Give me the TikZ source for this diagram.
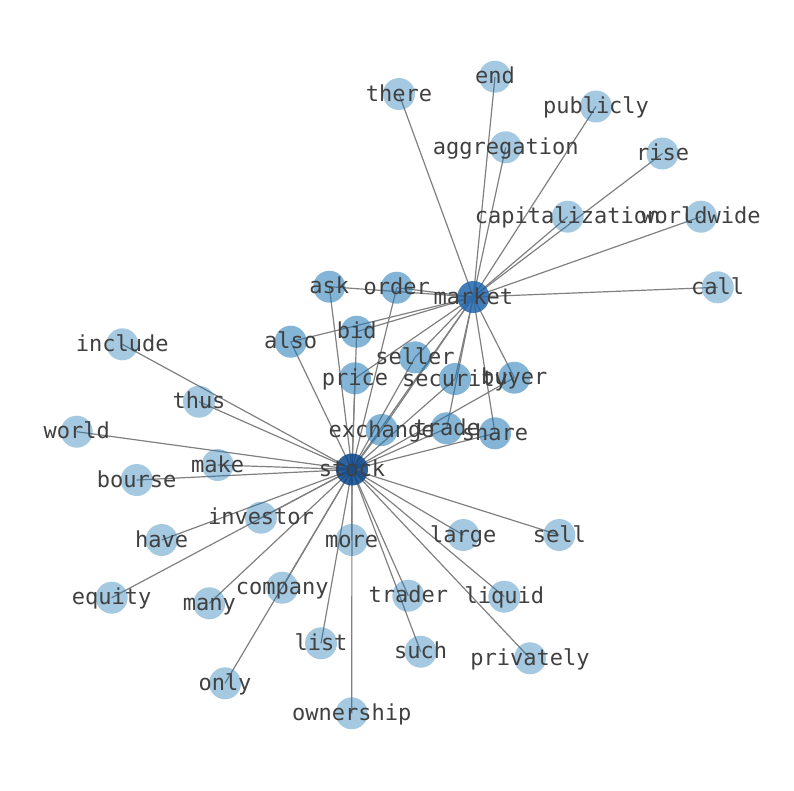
\documentclass[tikz,border=0pt]{standalone}
\usepackage{fontspec}
\setmonofont{DejaVu Sans Mono}
\pgfdeclarelayer{edgelayer}
\pgfdeclarelayer{labellayer}
\pgfsetlayers{edgelayer,main,labellayer}
\definecolor{nodeblue}{HTML}{1F78B4}
\definecolor{marketblue}{HTML}{2166AC}
\definecolor{stockblue}{HTML}{08468A}
\tikzset{
  wn/.style={circle, minimum size=32pt, inner sep=0pt, draw=none, fill=nodeblue, fill opacity=0.4},
  mn/.style={wn, fill opacity=0.55},
  hubm/.style={wn, fill=marketblue, fill opacity=0.85},
  hubs/.style={wn, fill=stockblue, fill opacity=0.85},
  lbl/.style={font=\ttfamily\fontsize{22}{24}\selectfont, text=black!75, inner sep=0pt, text height=14pt, text depth=0pt, anchor=center},
  edge/.style={draw=black!50, line width=1.2pt}
}
\begin{document}
\begin{tikzpicture}[x=1pt,y=-1pt]
\useasboundingbox (0,0) rectangle (794,790);
% circles
\node[hubs] (stock) at (352,469.5) {};
\node[hubm] (market) at (473.3,297) {};
\node[wn] (there) at (399,94) {};
\node[wn] (end) at (495,76.7) {};
\node[wn] (publicly) at (596,106.5) {};
\node[wn] (aggregation) at (505.7,147.3) {};
\node[wn] (rise) at (662.5,153.5) {};
\node[wn] (capitalization) at (567.7,216.7) {};
\node[wn] (worldwide) at (701,216.7) {};
\node[wn] (call) at (717.7,287.3) {};
\node[mn] (ask) at (329.3,286.7) {};
\node[mn] (order) at (396.7,287.7) {};
\node[mn] (bid) at (356.7,331.7) {};
\node[mn] (also) at (290.7,341.7) {};
\node[wn] (include) at (122.3,344.3) {};
\node[mn] (seller) at (415,357.3) {};
\node[mn] (price) at (355,378.3) {};
\node[mn] (security) at (455,379) {};
\node[mn] (buyer) at (514.3,377.7) {};
\node[wn] (thus) at (199,401.7) {};
\node[wn] (world) at (76.7,431.7) {};
\node[mn] (exchange) at (381.7,430) {};
\node[mn] (trade) at (446.7,428.3) {};
\node[mn] (share) at (495,433.3) {};
\node[wn] (make) at (217.7,465) {};
\node[wn] (bourse) at (136.7,480) {};
\node[wn] (investor) at (261,517.7) {};
\node[wn] (have) at (161.7,540) {};
\node[wn] (more) at (351.7,540) {};
\node[wn] (large) at (463.3,535) {};
\node[wn] (sell) at (559.3,535) {};
\node[wn] (equity) at (111.7,597.7) {};
\node[wn] (many) at (209.3,603.3) {};
\node[wn] (company) at (282.3,587.7) {};
\node[wn] (trader) at (408.3,595.7) {};
\node[wn] (liquid) at (504.3,596.7) {};
\node[wn] (list) at (321,643.3) {};
\node[wn] (such) at (420.7,651.7) {};
\node[wn] (privately) at (530,658.3) {};
\node[wn] (only) at (225,683.3) {};
\node[wn] (ownership) at (351.7,713.3) {};
% edges
\begin{pgfonlayer}{edgelayer}
\foreach \t in {there,end,publicly,aggregation,rise,capitalization,worldwide,call,ask,order,bid,also,price,seller,security,buyer,share,trade,exchange,stock}
  \draw[edge] (market.center) -- (\t.center);
\foreach \t in {include,thus,world,make,bourse,investor,have,equity,many,company,only,list,ownership,more,trader,such,privately,liquid,large,sell,ask,order,bid,also,price,seller,security,buyer,share,trade,exchange}
  \draw[edge] (stock.center) -- (\t.center);
\end{pgfonlayer}
% labels
\begin{pgfonlayer}{labellayer}
\foreach \t in {stock,market,there,end,publicly,aggregation,rise,capitalization,worldwide,call,ask,order,bid,also,include,seller,price,security,buyer,thus,world,exchange,trade,share,make,bourse,investor,have,more,large,sell,equity,many,company,trader,liquid,list,such,privately,only,ownership}
  \node[lbl] (\t-l) at (\t) {\t};
\end{pgfonlayer}
\end{tikzpicture}
\end{document}
